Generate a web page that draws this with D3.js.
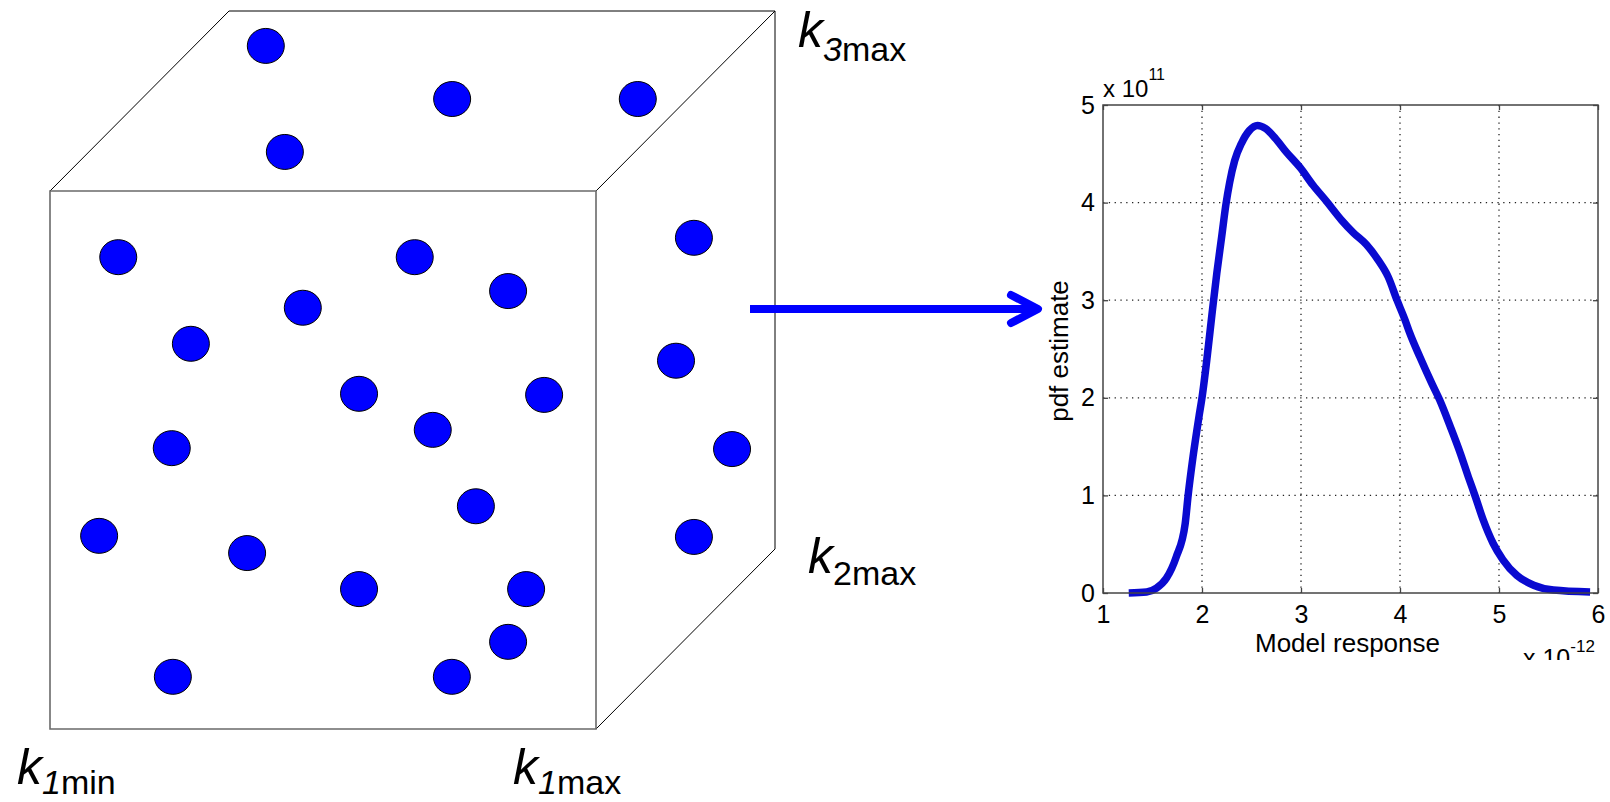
<!DOCTYPE html>
<html>
<head>
<meta charset="utf-8">
<script src="https://cdn.jsdelivr.net/npm/d3@7"></script>
<style>
  body { margin: 0; background: #fff; }
  svg { display: block; font-family: "Liberation Sans", Arial, sans-serif; }
</style>
</head>
<body>
<div id="chart"></div>
<script>
// sample points on the cube faces, normalised parameter space
// front face (k2 = min): [k1, k3]
const frontDots = [
    [0.125, 0.877], [0.668, 0.877], [0.839, 0.814], [0.463, 0.783],
    [0.258, 0.716], [0.566, 0.623], [0.905, 0.621], [0.701, 0.556],
    [0.223, 0.522], [0.780, 0.414], [0.090, 0.359], [0.361, 0.327],
    [0.566, 0.260], [0.872, 0.260], [0.839, 0.162], [0.225, 0.097],
    [0.736, 0.097]
];
// top face (k3 = max): [k1, k2]
const topDots = [[0.131, 0.806], [0.569, 0.511], [0.909, 0.511], [0.359, 0.217]];
// side face (k1 = max): [k2, k3]
const sideDots = [[0.547, 0.730], [0.447, 0.535], [0.760, 0.266], [0.547, 0.174]];

// corner labels: k + subscript
const cornerLabels = [
    { sub: "1", tail: "min" },
    { sub: "1", tail: "max" },
    { sub: "2", tail: "max" },
    { sub: "3", tail: "max" }
];

// pdf estimate curve (x in 1e-12, y in 1e11)
const pdfX = [1.26, 1.44, 1.54, 1.64, 1.74, 1.83, 1.86, 1.91, 1.97, 2.00, 2.05, 2.10,
    2.15, 2.20, 2.24, 2.28, 2.33, 2.40, 2.48, 2.56, 2.64, 2.74, 2.85, 2.99,
    3.12, 3.26, 3.41, 3.53, 3.66, 3.78, 3.88, 3.97, 4.05, 4.10, 4.20, 4.32,
    4.40, 4.51, 4.61, 4.69, 4.76, 4.84, 4.94, 5.04, 5.18, 5.35, 5.55, 5.92];
const pdfY = [0.00, 0.01, 0.05, 0.15, 0.37, 0.71, 1.00, 1.40, 1.81, 2.00, 2.40, 2.85,
    3.28, 3.66, 3.97, 4.21, 4.43, 4.61, 4.74, 4.79, 4.76, 4.66, 4.52, 4.36,
    4.18, 4.01, 3.82, 3.69, 3.57, 3.41, 3.24, 3.00, 2.80, 2.66, 2.42, 2.15,
    1.98, 1.70, 1.43, 1.19, 0.99, 0.75, 0.51, 0.34, 0.18, 0.08, 0.03, 0.01];

const xTicks = [1, 2, 3, 4, 5, 6];
const yTicks = [0, 1, 2, 3, 4, 5];

function init() {
    const w = 1610;
    const h = 802;

    const svg = d3.select("#chart")
        .append("svg")
        .attr("width", w)
        .attr("height", h);

    drawCube(svg);
    drawArrow(svg);
    drawPdfChart(svg);
}

function drawCube(svg) {
    // oblique projection of the unit cube
    const k1Scale = d3.scaleLinear().domain([0, 1]).range([50, 596]);
    const k3Scale = d3.scaleLinear().domain([0, 1]).range([729, 191]);
    const depthX = d3.scaleLinear().domain([0, 1]).range([0, 179]);
    const depthY = d3.scaleLinear().domain([0, 1]).range([0, -180]);
    const project = (k1, k2, k3) => [k1Scale(k1) + depthX(k2), k3Scale(k3) + depthY(k2)];

    const line = d3.line();

    // back / receding edges
    const backEdges = [
        [[0, 0, 1], [0, 1, 1]],
        [[1, 0, 1], [1, 1, 1]],
        [[1, 0, 0], [1, 1, 0]],
        [[0, 1, 1], [1, 1, 1]],
        [[1, 1, 1], [1, 1, 0]]
    ];
    svg.append("g")
        .selectAll("path")
        .data(backEdges)
        .enter()
        .append("path")
        .attr("d", d => line(d.map(p => project(...p))))
        .attr("fill", "none")
        .attr("stroke", "#000")
        .attr("stroke-width", 1);

    // front face
    const front = [[0, 0, 0], [1, 0, 0], [1, 0, 1], [0, 0, 1]].map(p => project(...p));
    svg.append("path")
        .attr("d", line(front) + "Z")
        .attr("fill", "none")
        .attr("stroke", "#6a6a6a")
        .attr("stroke-width", 1.6);

    // dots
    const allDots = []
        .concat(frontDots.map(d => project(d[0], 0, d[1])))
        .concat(topDots.map(d => project(d[0], d[1], 1)))
        .concat(sideDots.map(d => project(1, d[0], d[1])));

    svg.append("g")
        .selectAll("ellipse")
        .data(allDots)
        .enter()
        .append("ellipse")
        .attr("cx", d => d[0])
        .attr("cy", d => d[1])
        .attr("rx", 18.5)
        .attr("ry", 17.5)
        .attr("fill", "#0000ff")
        .attr("stroke", "#000")
        .attr("stroke-width", 1);

    // labels at cube corners
    const anchors = [
        { p: project(0, 0, 0), dx: -33, dy: 55, subDy: 10 },
        { p: project(1, 0, 0), dx: -83, dy: 55, subDy: 10 },
        { p: project(1, 1, 0), dx: 33, dy: 24, subDy: 12 },
        { p: project(1, 1, 1), dx: 23, dy: 36, subDy: 14 }
    ];
    cornerLabels.forEach((lab, i) => {
        const a = anchors[i];
        const t = svg.append("text")
            .attr("x", a.p[0] + a.dx)
            .attr("y", a.p[1] + a.dy)
            .attr("fill", "#000");
        t.append("tspan")
            .attr("font-size", 50)
            .attr("font-style", "italic")
            .text("k");
        t.append("tspan")
            .attr("font-size", 34)
            .attr("font-style", lab.sub === "2" ? "normal" : "italic")
            .attr("dy", a.subDy)
            .text(lab.sub);
        t.append("tspan")
            .attr("font-size", 34)
            .text(lab.tail);
    });
}

function drawArrow(svg) {
    const g = svg.append("g")
        .attr("stroke", "#0000ff")
        .attr("stroke-width", 8)
        .attr("fill", "none");
    g.append("line")
        .attr("x1", 750).attr("y1", 309)
        .attr("x2", 1036).attr("y2", 309);
    g.append("path")
        .attr("d", "M1011,295L1038,309L1011,323")
        .attr("stroke-linecap", "round")
        .attr("stroke-linejoin", "round");
}

function drawPdfChart(svg) {
    const left = 1103, right = 1598, top = 105, bottom = 593;
    const fontSize = 25;

    const x = d3.scaleLinear().domain([1, 6]).range([left, right]);
    const y = d3.scaleLinear().domain([0, 5]).range([bottom, top]);

    // dotted grid
    const grid = svg.append("g").attr("class", "grid");
    grid.selectAll("line.v")
        .data(xTicks.slice(1, -1))
        .enter()
        .append("line")
        .attr("x1", d => x(d)).attr("x2", d => x(d))
        .attr("y1", top).attr("y2", bottom);
    grid.selectAll("line.h")
        .data(yTicks.slice(1, -1))
        .enter()
        .append("line")
        .attr("y1", d => y(d)).attr("y2", d => y(d))
        .attr("x1", left).attr("x2", right);
    grid.selectAll("line")
        .attr("stroke", "#222")
        .attr("stroke-width", 1.3)
        .attr("stroke-dasharray", "1.3,4.5");

    // curve
    const line = d3.line()
        .x((d, i) => x(pdfX[i]))
        .y(d => y(d))
        .curve(d3.curveMonotoneX);
    svg.append("path")
        .datum(pdfY)
        .attr("d", line)
        .attr("fill", "none")
        .attr("stroke", "#0a0ad0")
        .attr("stroke-width", 7.5)
        .attr("stroke-linejoin", "round");

    // axes
    const styleAxis = g => {
        g.select(".domain").remove();
        g.selectAll("line").attr("stroke", "#444").attr("stroke-width", 1.3);
        g.selectAll("text")
            .attr("font-size", fontSize)
            .attr("font-family", "'Liberation Sans', Arial, sans-serif")
            .attr("fill", "#000");
    };

    svg.append("g")
        .attr("transform", `translate(0,${bottom})`)
        .call(d3.axisBottom(x).tickValues(xTicks).tickSizeInner(-5).tickSizeOuter(0).tickPadding(12).tickFormat(d3.format("d")))
        .call(styleAxis);
    svg.append("g")
        .attr("transform", `translate(0,${top})`)
        .call(d3.axisTop(x).tickValues(xTicks).tickSizeInner(-5).tickSizeOuter(0).tickFormat(""))
        .call(styleAxis);
    svg.append("g")
        .attr("transform", `translate(${left},0)`)
        .call(d3.axisLeft(y).tickValues(yTicks).tickSizeInner(-5).tickSizeOuter(0).tickPadding(8).tickFormat(d3.format("d")))
        .call(styleAxis);
    svg.append("g")
        .attr("transform", `translate(${right},0)`)
        .call(d3.axisRight(y).tickValues(yTicks).tickSizeInner(-5).tickSizeOuter(0).tickFormat(""))
        .call(styleAxis);

    // axis box
    svg.append("rect")
        .attr("x", left).attr("y", top)
        .attr("width", right - left).attr("height", bottom - top)
        .attr("fill", "none")
        .attr("stroke", "#444")
        .attr("stroke-width", 1.5);

    // axis labels
    svg.append("text")
        .attr("x", (left + right) / 2 - 3)
        .attr("y", 652)
        .attr("text-anchor", "middle")
        .attr("font-size", 26)
        .text("Model response");

    svg.append("text")
        .attr("transform", `translate(1068,${(top + bottom) / 2 + 2}) rotate(-90)`)
        .attr("text-anchor", "middle")
        .attr("font-size", 26)
        .text("pdf estimate");

    // exponent labels
    const topExp = svg.append("text")
        .attr("x", left)
        .attr("y", 97);
    topExp.append("tspan").attr("font-size", 24).text("x 10");
    topExp.append("tspan").attr("font-size", 16).attr("dy", -17).text("11");

    svg.append("clipPath")
        .attr("id", "expClip")
        .append("rect")
        .attr("x", 1400).attr("y", 600)
        .attr("width", 210).attr("height", 60);
    const botExp = svg.append("text")
        .attr("x", 1523)
        .attr("y", 667)
        .attr("clip-path", "url(#expClip)");
    botExp.append("tspan").attr("font-size", 25).text("x 10");
    botExp.append("tspan").attr("font-size", 17).attr("dy", -15).text("-12");
}

window.onload = init;
</script>
</body>
</html>
